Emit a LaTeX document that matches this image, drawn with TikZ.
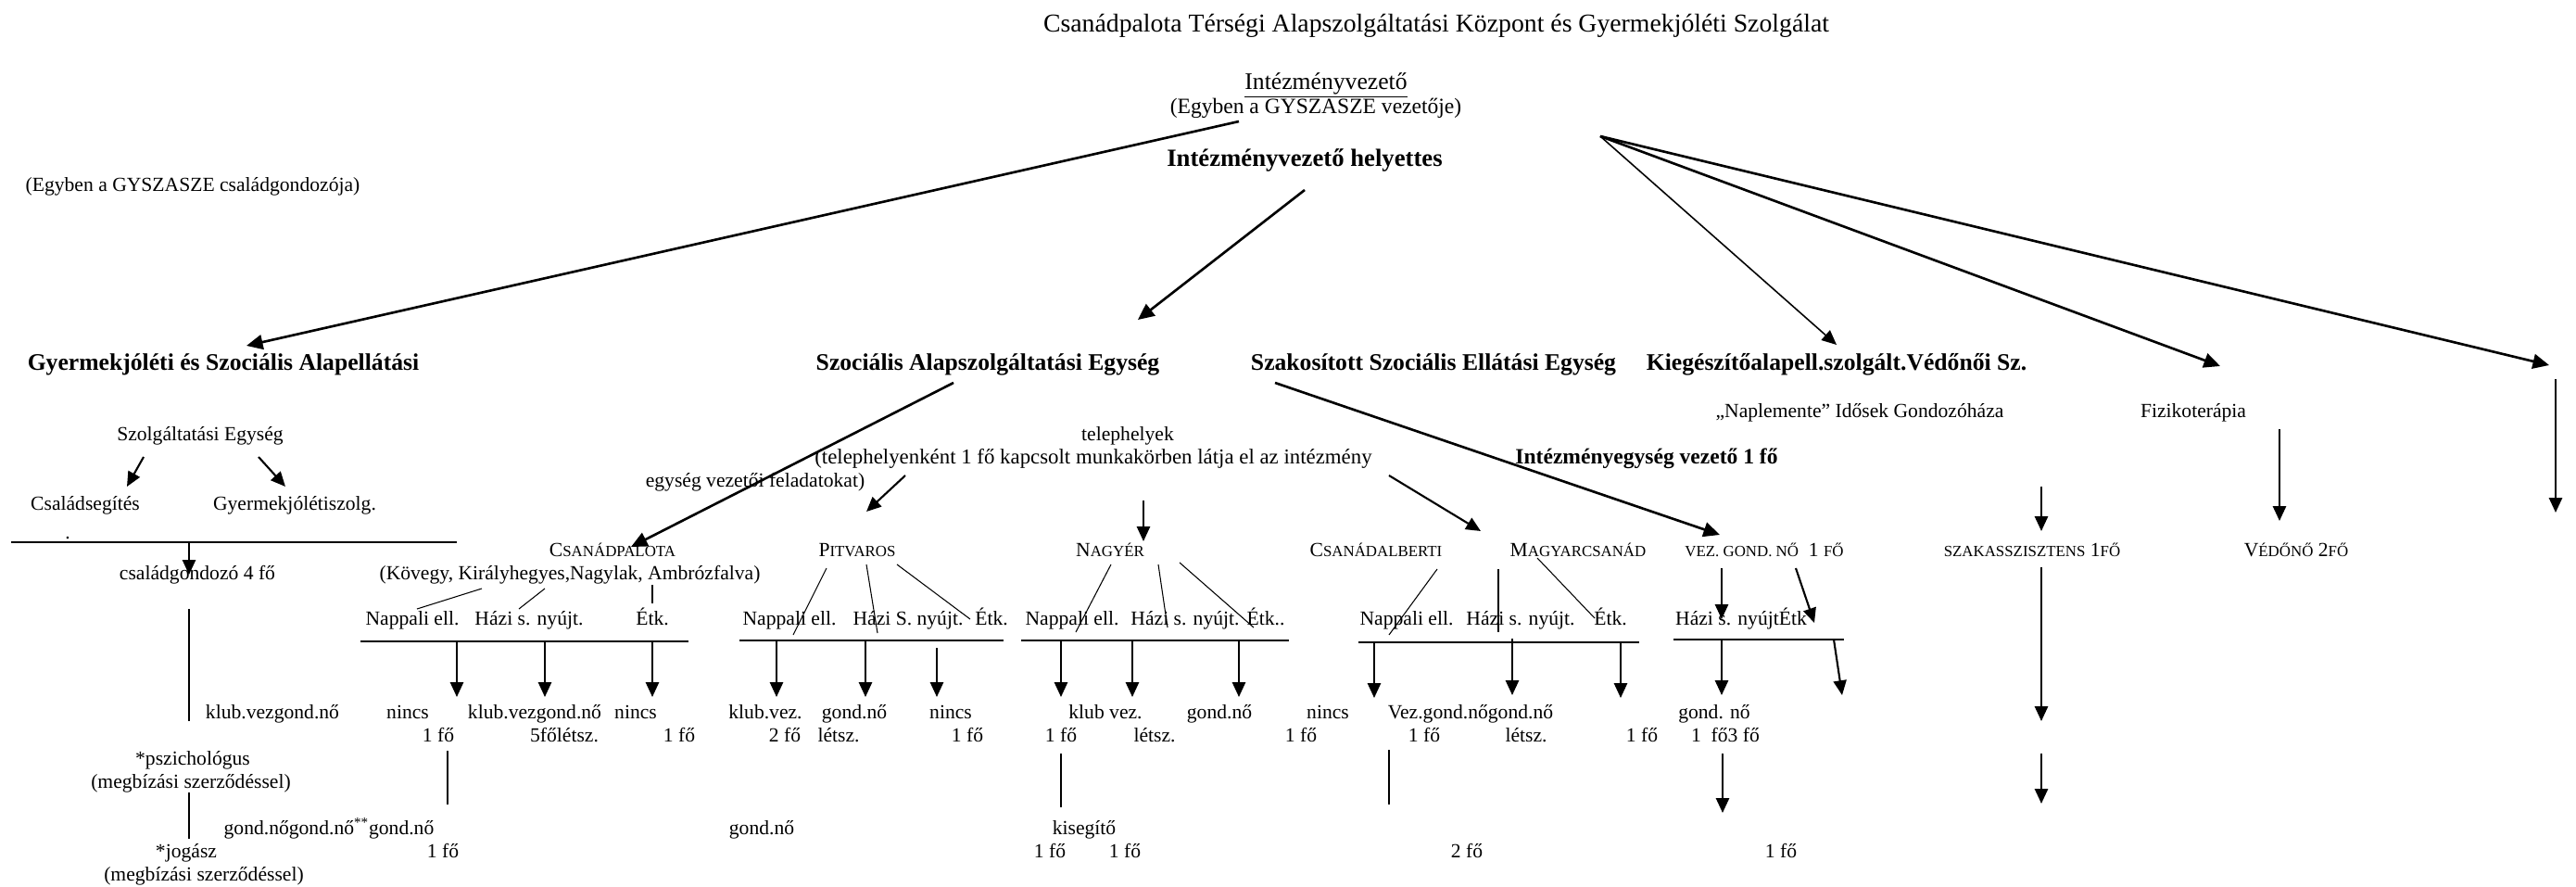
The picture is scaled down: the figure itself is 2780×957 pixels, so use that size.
\documentclass[tikz,border=0pt]{standalone}
\usepackage{fontspec}
\setmainfont{Liberation Serif}
\usetikzlibrary{arrows.meta}
\newcommand\fs{\fontsize{12.3}{14}\selectfont}
\newcommand\sm[1]{{\fontsize{9.6}{11}\selectfont #1}}
\begin{document}
\begin{tikzpicture}[x=0.02cm,y=-0.02cm,
 t/.style={inner sep=0pt, anchor=base, yshift=-0.14cm, font=\fs},
 tb/.style={t, font=\fontsize{14.6}{16}\selectfont\bfseries},
 ln/.style={line width=0.6pt},
 bar/.style={line width=1pt},
 arr/.style={line width=1.2pt, -{Triangle[width=8pt,length=9pt]}},
 big/.style={line width=1.5pt, -{Triangle[width=9pt,length=10pt]}},
 mid/.style={line width=0.9pt, -{Triangle[width=8pt,length=9pt]}},
]
\useasboundingbox (0,0) rectangle (2780,957);
% ---------- top texts
\node[t, font=\fontsize{15.8}{18}\selectfont] (title) at (1550,27) {Csanádpalota Térségi Alapszolgáltatási Központ és Gyermekjóléti Szolgálat};
\node[t, font=\fontsize{14.6}{16}\selectfont] (iv) at (1431,89) {\underline{Intézményvezető}};
\node[t, font=\fontsize{13.4}{15}\selectfont] (ivsub) at (1420,115) {(Egyben a GYSZASZE vezetője)};
\node[tb, font=\fontsize{15.2}{17}\selectfont\bfseries] (ivh) at (1408,172) {Intézményvezető helyettes};
\node[t] (egyb) at (208,199) {(Egyben a GYSZASZE családgondozója)};
\node[tb] (gysz) at (241,392) {Gyermekjóléti és Szociális Alapellátási};
\node[tb] (szae) at (1066,392) {Szociális Alapszolgáltatási Egység};
\node[tb] (szse) at (1547,392) {Szakosított Szociális Ellátási Egység};
\node[tb] (kieg) at (1982,392) {Kiegészítőalapell.szolgált.Védőnői Sz.};
% ---------- top arrows
\draw[big] (1337,131) coordinate (a1s) -- (266,373) coordinate (a1e);
\draw[big] (1408,205) coordinate (a2s) -- (1228,345) coordinate (a2e);
\coordinate (hub) at (1727,147);
\draw[mid] (hub) -- (1982,372) coordinate (a3e);
\draw[big] (hub) -- (2396,395) coordinate (a4e);
\draw[big] (hub) -- (2751,394) coordinate (a5e);
% ---------- left block
\node[t] (szeg) at (216,468) {Szolgáltatási Egység};
\node[t] (csal) at (92,543) {Családsegítés};
\node[t] (gyj) at (318,543) {Gyermekjólétiszolg.};
\node[t] (dot) at (73,574) {.};
\node[t] (cg4) at (213,618) {családgondozó 4 fő};
\node[t] (kvg1) at (294,768) {klub.vezgond.nő};
\node[t] (psz) at (208,818) {*pszichológus};
\node[t] (psz2) at (206,843) {(megbízási szerződéssel)};
\node[t] (gng) at (355,893) {gond.nőgond.nő\textsuperscript{**}gond.nő};
\node[t] (f1a) at (478,918) {1 fő};
\node[t] (jog) at (201,918) {*jogász};
\node[t] (jog2) at (220,943) {(megbízási szerződéssel)};
\draw[arr] (155,493) coordinate (b1s) -- (137,525) coordinate (b1e);
\draw[arr] (279,493) coordinate (b2s) -- (308,525) coordinate (b2e);
\draw[bar] (12,585) coordinate (l1s) -- (493,585) coordinate (l1e);
\draw[arr] (204,585) coordinate (b3s) -- (204,620) coordinate (b3e);
\draw[ln] (204,657) coordinate (l2s) -- (204,778) coordinate (l2e);
\draw[ln] (204,855) coordinate (l3s) -- (204,905) coordinate (l3e);
% ---------- Csanadpalota
\node[t] (cspal) at (661,593) {C\sm{SANÁDPALOTA}};
\node[t] (kov) at (615,618) {(Kövegy, Királyhegyes,Nagylak, Ambrózfalva)};
\node[t] (np1) at (445,667) {Nappali ell.};
\node[t] (hs1) at (571,667) {Házi s. nyújt.};
\node[t] (et1) at (704,667) {Étk.};
\node[t] (nc1) at (440,768) {nincs};
\node[t] (kvg2) at (577,768) {klub.vezgond.nő};
\node[t] (nc2) at (686,768) {nincs};
\node[t] (f1b) at (473,793) {1 fő};
\node[t] (f5) at (609,793) {5főlétsz.};
\node[t] (f1c) at (733,793) {1 fő};
\draw[big] (1029,413) coordinate (a6s) -- (681,590) coordinate (a6e);
\draw[ln] (520,635) coordinate (l4s) -- (450,657) coordinate (l4e);
\draw[ln] (588,635) coordinate (l5s) -- (560,657) coordinate (l5e);
\draw[ln] (704,631) coordinate (l6s) -- (704,651) coordinate (l6e);
\draw[bar] (389,692) coordinate (l7s) -- (743,692) coordinate (l7e);
\draw[arr] (493,692) coordinate (b4s) -- (493,752) coordinate (b4e);
\draw[arr] (588,692) coordinate (b5s) -- (588,752) coordinate (b5e);
\draw[arr] (704,692) coordinate (b6s) -- (704,752) coordinate (b6e);
\draw[ln] (483,810) coordinate (l8s) -- (483,868) coordinate (l8e);
% ---------- telephelyek / Pitvaros
\node[t] (tel) at (1217,468) {telephelyek};
\node[t, font=\fontsize{13}{15}\selectfont] (tel2) at (1180,493) {(telephelyenként 1 fő kapcsolt munkakörben látja el az intézmény};
\node[t] (tel3) at (815,518) {egység vezetői feladatokat)};
\node[t] (pit) at (925,593) {P\sm{ITVAROS}};
\node[t] (np2) at (852,667) {Nappali ell.};
\node[t] (hs2) at (980,667) {Házi S. nyújt.};
\node[t] (et2) at (1070,667) {Étk.};
\node[t] (kv3) at (826,768) {klub.vez.};
\node[t] (gn3) at (922,768) {gond.nő};
\node[t] (nc3) at (1026,768) {nincs};
\node[t] (f2a) at (847,793) {2 fő};
\node[t] (lt3) at (905,793) {létsz.};
\node[t] (f1d) at (1044,793) {1 fő};
\node[t] (gn4) at (822,893) {gond.nő};
\draw[arr] (977,513) coordinate (a7s) -- (935,552) coordinate (a7e);
\draw[ln] (892,613) coordinate (l9s) -- (856,685) coordinate (l9e);
\draw[ln] (935,609) coordinate (l10s) -- (947,683) coordinate (l10e);
\draw[ln] (968,609) coordinate (l11s) -- (1047,668) coordinate (l11e);
\draw[bar] (798,691) coordinate (l12s) -- (1083,691) coordinate (l12e);
\draw[arr] (838,691) coordinate (b7s) -- (838,752) coordinate (b7e);
\draw[arr] (934,691) coordinate (b8s) -- (934,752) coordinate (b8e);
\draw[arr] (1011,699) coordinate (b9s) -- (1011,752) coordinate (b9e);
% ---------- Nagyer
\node[t] (nagy) at (1198,593) {N\sm{AGYÉR}};
\node[t] (np3) at (1157,667) {Nappali ell.};
\node[t] (hs3) at (1279,667) {Házi s. nyújt.};
\node[t] (et3) at (1366,667) {Étk..};
\node[t] (kv4) at (1193,768) {klub vez.};
\node[t] (gn5) at (1316,768) {gond.nő};
\node[t] (nc4) at (1433,768) {nincs};
\node[t] (f1e) at (1145,793) {1 fő};
\node[t] (lt4) at (1246,793) {létsz.};
\node[t] (f1f) at (1404,793) {1 fő};
\node[t] (kis) at (1170,893) {kisegítő};
\node[t] (f1g) at (1133,918) {1 fő};
\node[t] (f1h) at (1214,918) {1 fő};
\draw[arr] (1234,540) coordinate (a8s) -- (1234,584) coordinate (a8e);
\draw[ln] (1199,609) coordinate (l13s) -- (1161,682) coordinate (l13e);
\draw[ln] (1250,609) coordinate (l14s) -- (1260,677) coordinate (l14e);
\draw[ln] (1273,607) coordinate (l15s) -- (1353,677) coordinate (l15e);
\draw[bar] (1102,691) coordinate (l16s) -- (1391,691) coordinate (l16e);
\draw[arr] (1145,691) coordinate (b10s) -- (1145,752) coordinate (b10e);
\draw[arr] (1222,691) coordinate (b11s) -- (1222,752) coordinate (b11e);
\draw[arr] (1337,691) coordinate (b12s) -- (1337,752) coordinate (b12e);
\draw[ln] (1145,813) coordinate (l17s) -- (1145,871) coordinate (l17e);
% ---------- Csanadalberti / Magyarcsanad
\node[t] (calb) at (1485,593) {C\sm{SANÁDALBERTI}};
\node[t] (mcs) at (1703,593) {M\sm{AGYARCSANÁD}};
\node[t] (np4) at (1518,667) {Nappali ell.};
\node[t] (hs4) at (1641,667) {Házi s. nyújt.};
\node[t] (et4) at (1738,667) {Étk.};
\node[t] (vgn) at (1587,768) {Vez.gond.nőgond.nő};
\node[t] (f1i) at (1537,793) {1 fő};
\node[t] (lt5) at (1647,793) {létsz.};
\node[t] (f1j) at (1772,793) {1 fő};
\node[t] (f2b) at (1583,918) {2 fő};
\draw[arr] (1499,513) coordinate (a9s) -- (1598,573) coordinate (a9e);
\draw[ln] (1551,614) coordinate (l18s) -- (1499,685) coordinate (l18e);
\draw[ln] (1617,614) coordinate (l19s) -- (1617,682) coordinate (l19e);
\draw[ln] (1659,602) coordinate (l20s) -- (1721,667) coordinate (l20e);
\draw[bar] (1466,693) coordinate (l21s) -- (1769,693) coordinate (l21e);
\draw[arr] (1483,693) coordinate (b13s) -- (1483,753) coordinate (b13e);
\draw[arr] (1632,689) coordinate (b14s) -- (1632,750) coordinate (b14e);
\draw[arr] (1749,693) coordinate (b15s) -- (1749,753) coordinate (b15e);
\draw[ln] (1499,809) coordinate (l22s) -- (1499,868) coordinate (l22e);
% ---------- Szakositott: vez. gond. no
\node[t] (nap) at (2007,443) {„Naplemente” Idősek Gondozóháza};
\node[tb, font=\fontsize{13.4}{15}\selectfont\bfseries] (ivez) at (1777,493) {Intézményegység vezető 1 fő};
\node[t] (vezg) at (1904,593) {\sm{VEZ. GOND. NŐ}~~1 \sm{FŐ}};
\node[t] (hse) at (1879,667) {Házi s. nyújtÉtk};
\node[t] (gn6) at (1850,768) {gond. nő};
\node[t] (f13) at (1862,793) {1~~fő3 fő};
\node[t] (f1k) at (1922,918) {1 fő};
\draw[big] (1376,413) coordinate (a10s) -- (1856,577) coordinate (a10e);
\draw[arr] (1858,613) coordinate (b16s) -- (1858,668) coordinate (b16e);
\draw[arr] (1938,613) coordinate (b17s) -- (1958,672) coordinate (b17e);
\draw[bar] (1806,690) coordinate (l23s) -- (1990,690) coordinate (l23e);
\draw[arr] (1858,690) coordinate (b18s) -- (1858,750) coordinate (b18e);
\draw[arr] (1979,690) coordinate (b19s) -- (1988,750) coordinate (b19e);
\draw[arr] (1859,813) coordinate (b20s) -- (1859,877) coordinate (b20e);
% ---------- right side
\node[t] (szak) at (2193,593) {\sm{SZAKASSZISZTENS} 1\sm{FŐ}};
\node[t] (fizi) at (2367,443) {Fizikoterápia};
\node[t] (ved) at (2478,593) {V\sm{ÉDŐNŐ} 2\sm{FŐ}};
\draw[arr] (2203,525) coordinate (b21s) -- (2203,573) coordinate (b21e);
\draw[arr] (2203,612) coordinate (b22s) -- (2203,778) coordinate (b22e);
\draw[arr] (2203,813) coordinate (b23s) -- (2203,867) coordinate (b23e);
\draw[arr] (2460,463) coordinate (b24s) -- (2460,562) coordinate (b24e);
\draw[arr] (2758,409) coordinate (b25s) -- (2758,553) coordinate (b25e);
\end{tikzpicture}
\end{document}
